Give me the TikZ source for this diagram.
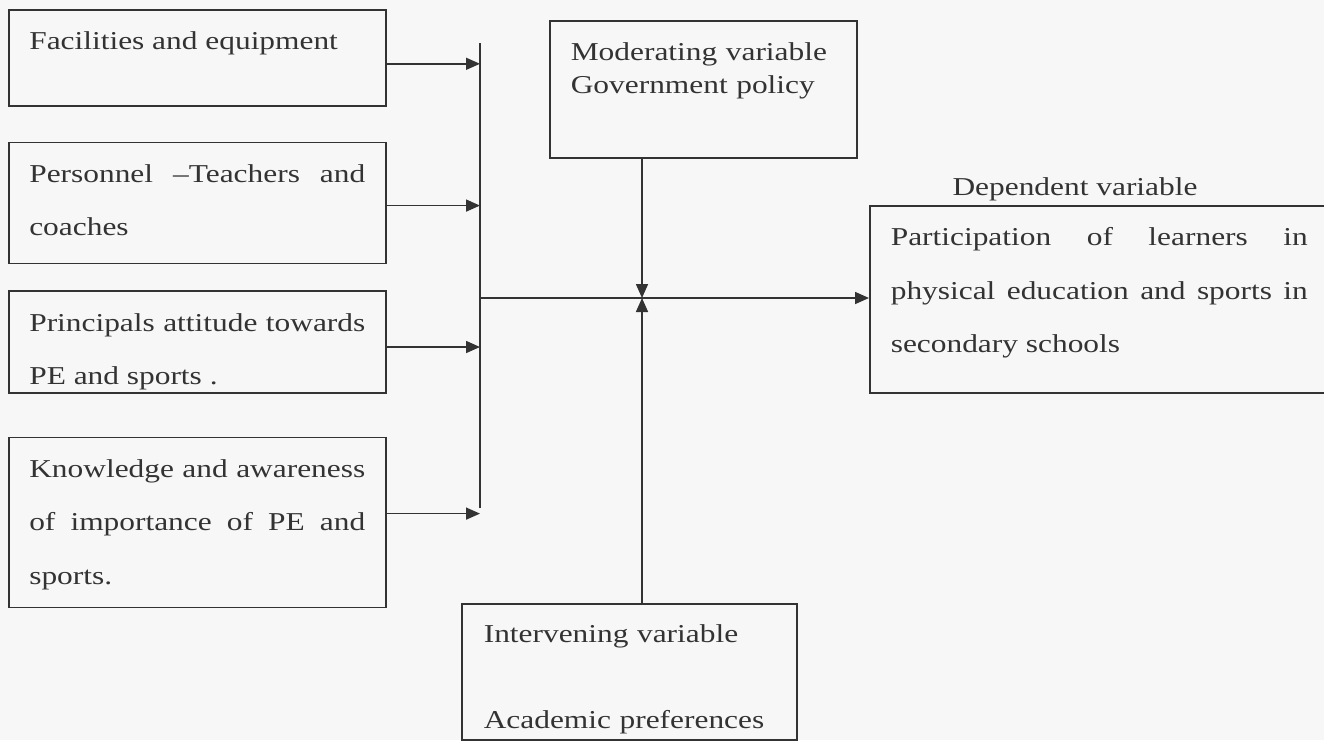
\documentclass[tikz,border=0pt]{standalone}
\usepackage{fontspec}
\newfontfamily\scanfont[FakeStretch=1.22]{Liberation Serif}
\usetikzlibrary{positioning, arrows.meta}
\definecolor{ink}{gray}{0.2}
\definecolor{paper}{gray}{0.97}
\tolerance=10000
\hyphenpenalty=10000
\exhyphenpenalty=10000
\tikzset{
  varbox/.style = {draw=ink, line width=1.2pt, anchor=north west, inner xsep=15.375pt, inner ysep=0pt, text width=252pt, align=justify, text height=30pt, text=ink, font=\scanfont\fontsize{19.3}{40}\selectfont},
  tag/.style    = {text=ink, font=\scanfont\fontsize{19.3}{24}\selectfont},
  arrow/.style  = {-{Triangle[length=10.5pt, width=9pt]}, draw=ink, line width=1.2pt}
}

\begin{document}
\begin{tikzpicture}[x=0.75pt, y=-0.75pt]
  \path[use as bounding box, fill=paper] (0,0) rectangle (1324,740);
  \node[varbox, text depth=42pt]                       (fac)  at (8,9) {Facilities and equipment};
  \node[varbox, text depth=60.75pt, below=26.25pt of fac]  (pers) {Personnel –Teachers and coaches};
  \node[varbox, text depth=46.5pt, below=19.5pt of pers]   (prin) {Principals attitude towards PE and sports .};
  \node[varbox, text depth=97.5pt, below=32.25pt of prin]  (know) {Knowledge and awareness of importance of PE and sports.};
  \node[varbox, text width=198.75pt, inner xsep=15.75pt, align=left, text height=30pt, text depth=72.75pt, font=\scanfont\fontsize{19.3}{24.75}\selectfont] (mod) at (549,20) {Moderating variable\\Government policy};
  \node[varbox, text width=218.25pt, inner xsep=16.5pt, align=left, text height=29.25pt, text depth=72.75pt] (int) at (461,603) {Intervening variable\\[24.5pt]Academic preferences};
  \node[varbox, text width=312.75pt, inner xsep=15.75pt, text depth=110.25pt] (dep) at (869,205) {Participation of learners in\linebreak physical education and sports in\linebreak secondary schools};
  \node[tag, anchor=base] (deplbl) at (1075,195) {Dependent variable};
  \coordinate (bustop) at (480,43);
  \coordinate (busbot) at (480,508);
  \coordinate (join) at (480,298);
  \coordinate (hub) at (642,298);
  \draw[ink, line width=1.2pt] (bustop) -- (busbot);
  \draw[arrow] ([yshift=-4.5pt]fac.east) -- ([yshift=-4.5pt]fac.east -| bustop);
  \draw[arrow] ([yshift=-2pt]pers.east) -- ([yshift=-2pt]pers.east -| bustop);
  \draw[arrow] ([yshift=-3.75pt]prin.east) -- ([yshift=-3.75pt]prin.east -| bustop);
  \draw[arrow] ([yshift=6.75pt]know.east) -- ([yshift=6.75pt]know.east -| bustop);
  \draw[arrow] (join) -- (join -| dep.west);
  \draw[arrow] (mod.south -| hub) -- (hub);
  \draw[arrow] (int.north -| hub) -- (hub);
\end{tikzpicture}
\end{document}
